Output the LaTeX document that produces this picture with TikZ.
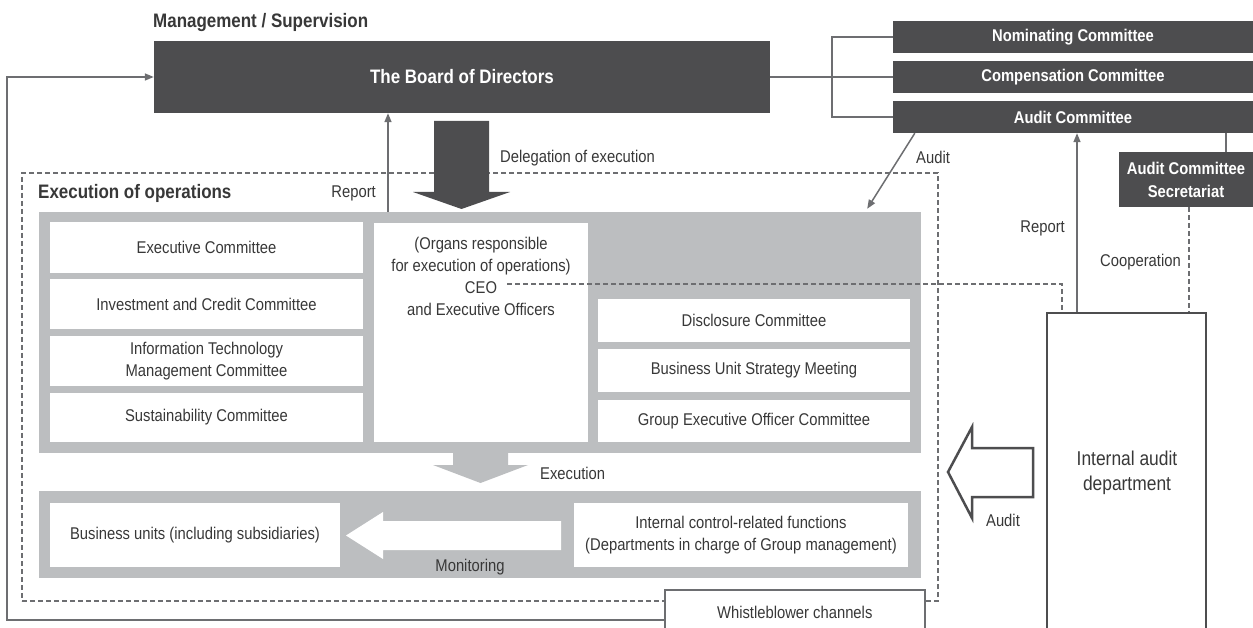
\documentclass[tikz,border=0pt]{standalone}
\usepackage{fontspec}
\setmainfont{Liberation Sans}[FakeStretch=0.87]
\usetikzlibrary{arrows.meta}
\definecolor{dk}{HTML}{4D4D4F}
\definecolor{pn}{HTML}{BCBEC0}
\definecolor{ln}{HTML}{6D6E71}
\definecolor{tx}{HTML}{383838}
\tikzset{
  sz/.style 2 args={minimum width=#1pt, minimum height=#2pt},
  dbox/.style={fill=dk, text=white, font=\bfseries\fontsize{17}{23}\selectfont, inner sep=0pt, align=center},
  wbox/.style={fill=white, text=tx, font=\fontsize{17}{22}\selectfont, inner sep=0pt, align=center},
  panel/.style={fill=pn, inner sep=0pt},
  lbl/.style={text=tx, font=\fontsize{17}{22}\selectfont, inner sep=0pt, align=center},
  ttl/.style={text=tx, font=\bfseries\fontsize{19.5}{23}\selectfont, inner sep=0pt},
  conn/.style={draw=ln, line width=1.5pt},
  arr/.style={conn, -{Triangle[length=9pt,width=7pt]}},
  dsh/.style={draw=ln, line width=2pt, dash pattern=on 5pt off 3pt},
}
\begin{document}
\begin{tikzpicture}[x=1pt,y=-1pt]
\clip (0,0) rectangle (1253,628);
\fill[white] (0,0) rectangle (1253,628);

% dashed frame of execution of operations
\node[dsh, sz={916}{428}, inner sep=0pt] (frame) at (480,387) {};

% management
\node[ttl, anchor=west] (mgmt) at (153,23) {Management / Supervision};
\node[dbox, sz={616}{72}, font=\bfseries\fontsize{19.5}{23}\selectfont] (board) at (462,77) {The Board of Directors};

\node[dbox, sz={360}{32}] (nom) at (1073,37) {Nominating Committee};
\node[dbox, sz={360}{32}] (comp) at (1073,77) {Compensation Committee};
\node[dbox, sz={360}{32}] (audc) at (1073,117) {Audit Committee};
\node[dbox, sz={134}{55}] (sec) at (1186,179.5) {Audit Committee\\Secretariat};

\coordinate (br) at (832,77);
\draw[conn] (board.east) -- (comp.west);
\draw[conn] (nom.west) -| (br) |- (audc.west);
\draw[conn] ([xshift=40pt]sec.north) -- ([xshift=40pt]sec.north |- audc.south);

% panels
\node[panel, sz={882}{241}] (p1) at (480,332.5) {};
\node[panel, sz={882}{87}] (p2) at (480,534.5) {};

% left column
\node[wbox, sz={313}{51}] (exec) at (206.5,247.5) {Executive Committee};
\node[wbox, sz={313}{50}] (inv) at (206.5,304) {Investment and Credit Committee};
\node[wbox, sz={313}{50}] (itm) at (206.5,361) {Information Technology\\Management Committee};
\node[wbox, sz={313}{49}] (sus) at (206.5,417.5) {Sustainability Committee};

% CEO
\node[wbox, sz={214}{219}] (ceo) at (481,332.5) {};
\node[lbl] (ceotext) at (481,276) {(Organs responsible\\for execution of operations)\\CEO\\and Executive Officers};
\coordinate (ceoend) at (507,284);

% right column
\node[wbox, sz={312}{43}] (disc) at (754,320.5) {Disclosure Committee};
\node[wbox, sz={312}{43}] (bus) at (754,370.5) {Business Unit Strategy Meeting};
\node[wbox, sz={312}{42}] (geo) at (754,421) {Group Executive Officer Committee};

% lower panel
\node[wbox, sz={290}{64}] (bu) at (195,535) {Business units (including subsidiaries)};
\node[wbox, sz={334}{64}] (icf) at (741,535) {Internal control-related functions\\(Departments in charge of Group management)};

% block arrows
\fill[dk] (434,121) -- (489,121) -- (489,192) -- (510,192) -- (461.5,209) -- (413,192) -- (434,192) -- cycle;
\fill[pn] (453,452) -- (508,452) -- (508,465) -- (528,465) -- (480.5,483) -- (433,465) -- (453,465) -- cycle;
\fill[white] (561,521) -- (383,521) -- (383,512) -- (346,535.5) -- (383,559) -- (383,550) -- (561,550) -- cycle;

% internal audit
\node[wbox, draw=dk, line width=2.5pt, sz={159}{330}] (ia) at (1126.5,478) {};
\node[lbl, font=\fontsize{20}{25}\selectfont] (iatext) at (1127,473) {Internal audit\\department};
\filldraw[fill=white, draw=dk, line width=2.5pt, line join=miter] (948,472) -- (972,427) -- (972,448) -- (1033,448) -- (1033,497) -- (972,497) -- (972,518) -- cycle;

% connectors
\draw[arr] (p1.north -| 388,0) -- (board.south -| 388,0);
\draw[arr] (ia.north -| 1077,0) -- (audc.south -| 1077,0);
\draw[dsh] (sec.south -| 1189,0) -- (ia.north -| 1189,0);
\draw[dsh] (ceoend) -| (ia.north -| 1062,0);
\draw[arr] ([xshift=22pt]audc.south west) -- ([xshift=-54pt,yshift=3pt]p1.north east);

% whistleblower
\node[wbox, draw=ln, line width=1.5pt, sz={260}{46}, anchor=north west] (wb) at (664,589) {Whistleblower channels};
\draw[arr] (wb.west |- 0,620) -- (7,620) |- (board.west);

% labels
\node[ttl, anchor=west] (exo) at (38,193) {Execution of operations};
\node[lbl, anchor=east] (rep1) at (376,193) {Report};
\node[lbl, anchor=west] (deleg) at (500,158) {Delegation of execution};
\node[lbl, anchor=west] (aud1) at (916,157) {Audit};
\node[lbl, anchor=west] (exe) at (540,473) {Execution};
\node[lbl] (mon) at (470,567) {Monitoring};
\node[lbl, anchor=east] (rep2) at (1065,228) {Report};
\node[lbl, anchor=east] (coop) at (1181,262) {Cooperation};
\node[lbl] (aud2) at (1003,520) {Audit};
\end{tikzpicture}
\end{document}
